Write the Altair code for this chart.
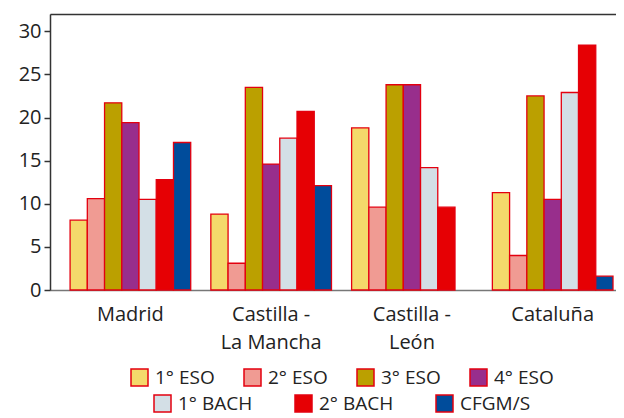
import altair as alt
import pandas as pd

regions = ["Madrid", "Castilla - La Mancha", "Castilla - León", "Cataluña"]
region_labels = ["Madrid", "Castilla -|La Mancha", "Castilla -|León", "Cataluña"]
series = ["1° ESO", "2° ESO", "3° ESO", "4° ESO", "1° BACH", "2° BACH", "CFGM/S"]
colors = ["#F4D96B", "#F09B93", "#BBA000", "#982E8C", "#D3DFE6", "#E60004", "#004C9B"]

v_eso1 = [8.1, 8.8, 18.8, 11.3]
v_eso2 = [10.6, 3.1, 9.6, 4.0]
v_eso3 = [21.7, 23.5, 23.8, 22.5]
v_eso4 = [19.4, 14.6, 23.8, 10.5]
v_bach1 = [10.5, 17.6, 14.2, 22.9]
v_bach2 = [12.8, 20.7, 9.6, 28.4]
v_cfgm = [17.1, 12.1, None, 1.6]

vals = [v_eso1, v_eso2, v_eso3, v_eso4, v_bach1, v_bach2, v_cfgm]
rows = []
for s, arr in zip(series, vals):
    for r, lab, v in zip(regions, region_labels, arr):
        if v is not None:
            rows.append({"region": lab, "serie": s, "value": v})
df = pd.DataFrame(rows)

g1, g2 = series[:4], series[4:]
c1, c2 = colors[:4], colors[4:]

FONT = "Open Sans"
RED = "#E3000F"

xscale = alt.Scale(paddingInner=0.143, paddingOuter=0.082, align=0.87)
xoff = alt.XOffset("serie:N", sort=series, scale=alt.Scale(domain=series, paddingInner=0, paddingOuter=0))
yenc = alt.Y("value:Q", scale=alt.Scale(domain=[0, 32], nice=False),
             axis=alt.Axis(values=[0, 5, 10, 15, 20, 25, 30], title=None, grid=False,
                           tickSize=6, tickColor="#333", tickWidth=1.5,
                           domainColor="#333", domainWidth=1.5,
                           labelFontSize=20, labelColor="#222", labelPadding=3,
                           labelFont=FONT))

def legend(x, y, pad):
    return alt.Legend(orient="none", legendX=x, legendY=y, direction="horizontal",
                      title=None, symbolType="square", symbolSize=289,
                      symbolStrokeColor=RED, symbolStrokeWidth=1.5, symbolOpacity=1,
                      labelFontSize=19, labelColor="#222", labelFont=FONT,
                      labelOffset=6, columnPadding=pad)

layer_a = alt.Chart(df).transform_filter(
    alt.FieldOneOfPredicate(field="serie", oneOf=g1)
).mark_bar(stroke=RED, strokeWidth=1.3).encode(
    x=alt.X("region:N", sort=region_labels, scale=xscale,
            axis=alt.Axis(orient="bottom", title=None, ticks=False, labelAngle=0,
                          domainColor="#777", domainWidth=1.5,
                          labelFontSize=20, labelColor="#222", labelFont=FONT,
                          labelPadding=14, labelLineHeight=28,
                          labelExpr="split(datum.label, '|')")),
    xOffset=xoff,
    y=yenc,
    fill=alt.Fill("serie:N", sort=g1, scale=alt.Scale(domain=g1, range=c1), legend=legend(80, 354, 26)),
)

layer_b = alt.Chart(df).transform_filter(
    alt.FieldOneOfPredicate(field="serie", oneOf=g2)
).mark_bar(stroke=RED, strokeWidth=1.3).encode(
    x=alt.X("region:N", sort=region_labels, scale=xscale,
            axis=alt.Axis(orient="top", title=None, ticks=False, labels=False,
                          domainColor="#333", domainWidth=1.5)),
    xOffset=xoff,
    y=yenc,
    fill=alt.Fill("serie:N", sort=g2, scale=alt.Scale(domain=g2, range=c2), legend=legend(103, 380, 39)),
)

chart = alt.layer(layer_a, layer_b).resolve_scale(fill="independent").resolve_axis(
    x="independent"
).resolve_legend(fill="independent").properties(
    width=566, height=276,
    autosize=alt.AutoSizeParams(type="none"),
    padding={"left": 42, "top": 6, "right": 0, "bottom": 132},
).configure_view(stroke=None).configure(font=FONT)

chart.save("out.html", embed_options={"renderer": "svg", "actions": False})
